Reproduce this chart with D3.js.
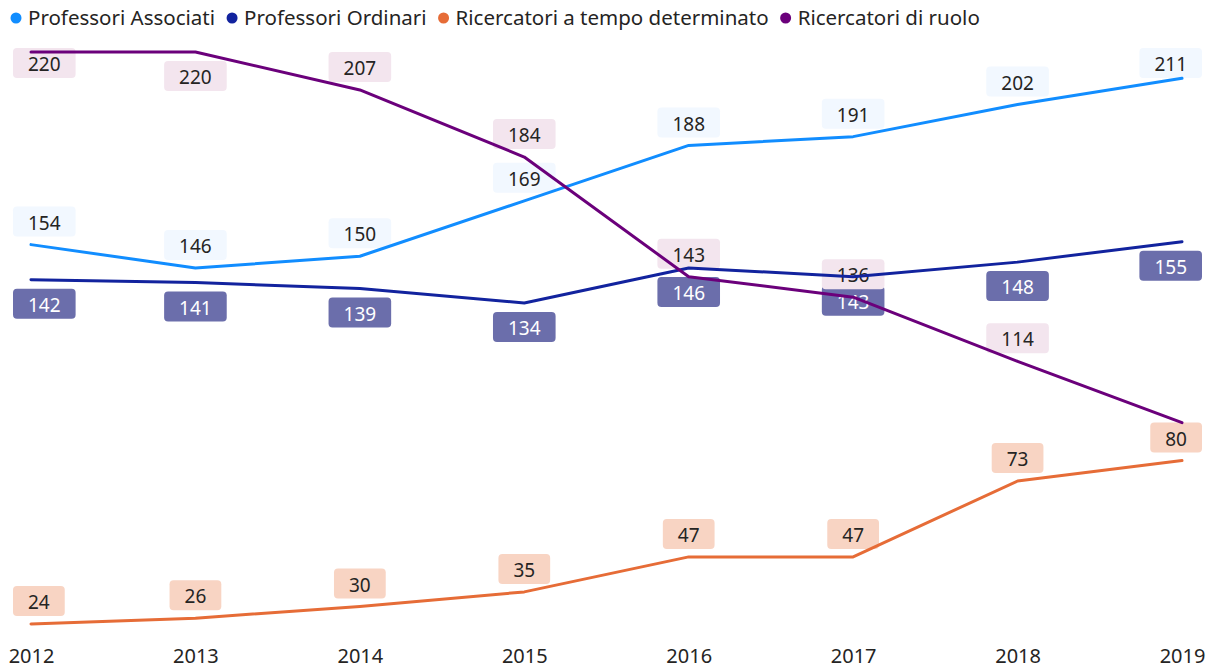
<!DOCTYPE html>
<html>
<head>
<meta charset="utf-8">
<script src="https://d3js.org/d3.v7.min.js"></script>
<style>
  body { margin: 0; background: #fff; }
  svg text { font-family: "Segoe UI", "Noto Sans", "Open Sans", sans-serif; fill: #252423; }
</style>
</head>
<body>
<svg id="chart" width="1214" height="671"></svg>
<script>
// data
var years = [2012, 2013, 2014, 2015, 2016, 2017, 2018, 2019];
var seriesNames = ["Professori Associati", "Professori Ordinari", "Ricercatori a tempo determinato", "Ricercatori di ruolo"];
var associati = [154, 146, 150, 169, 188, 191, 202, 211];
var ordinari = [142, 141, 139, 134, 146, 143, 148, 155];
var rtd = [24, 26, 30, 35, 47, 47, 73, 80];
var ruolo = [220, 220, 207, 184, 143, 136, 114, 93];
var labelSide = ["above", "below", "above", "above"];
var hiddenLabels = ["Ricercatori di ruolo|2019"];

var colors = ["#118DFF", "#12239E", "#E66C37", "#6B007B"];
var boxFill = ["#F2F8FF", "#6B6EAB", "#F8D4C3", "#F3E5EE"];
var boxText = ["#252423", "#ffffff", "#252423", "#252423"];

var series = [associati, ordinari, rtd, ruolo].map(function(v, i) {
  return { name: seriesNames[i], values: v, idx: i };
});

function draw() {
  var svg = d3.select("#chart");
  svg.selectAll("*").remove();

  var x = d3.scalePoint().domain(years).range([31, 1182]);
  var y = d3.scaleLinear().domain([24, 220]).range([624, 52]);

  // x axis labels
  var xAxis = d3.axisBottom(x).tickSize(0).tickPadding(0);
  var gx = svg.append("g").attr("transform", "translate(0,649)").call(xAxis);
  gx.select(".domain").remove();
  gx.selectAll("text").style("font-size", "20px").attr("dy", "0.72em")
    .style("font-family", '"Segoe UI", "Noto Sans", "Open Sans", sans-serif').attr("fill", "#252423");

  // legend
  var lx = 11;
  var legend = svg.append("g");
  series.forEach(function(s) {
    legend.append("circle").attr("cx", lx + 5).attr("cy", 18).attr("r", 5.5).attr("fill", colors[s.idx]);
    var t = legend.append("text").attr("x", lx + 17).attr("y", 18).attr("dy", "0.35em")
      .style("font-size", "20.5px").text(s.name);
    lx += 17 + t.node().getComputedTextLength() + 12;
  });

  // data labels (boxes under the lines)
  var labels = svg.append("g");
  var boxH = 30, gap = 8, topLimit = 48, leftLimit = 13, rightLimit = 1202;
  series.forEach(function(s) {
    var last = s.values.length - 1;
    s.values.forEach(function(v, i) {
      if (hiddenLabels.indexOf(s.name + "|" + years[i]) >= 0) return;
      var px = x(years[i]), py = y(v);
      var g = labels.append("g");
      var t = g.append("text").attr("text-anchor", "middle").attr("dy", "0.35em")
        .style("font-size", "19px").style("fill", boxText[s.idx]).text(v);
      var w = t.node().getComputedTextLength() + 30;
      var by;
      if (labelSide[s.idx] === "above") {
        by = py - gap - boxH;
        if (by < topLimit) by = (i === 0 || i === last) ? topLimit : py + gap + 1;
      } else {
        by = py + gap + 1;
      }
      var bx = px - w / 2;
      if (bx < leftLimit) bx = leftLimit;
      if (bx + w > rightLimit) bx = rightLimit - w;
      g.insert("rect", "text").attr("x", bx).attr("y", by).attr("width", w).attr("height", boxH)
        .attr("rx", 4).attr("fill", boxFill[s.idx]);
      t.attr("x", bx + w / 2).attr("y", by + boxH / 2 + 1.5);
    });
  });

  // lines
  var line = d3.line().x(function(d, i) { return x(years[i]); }).y(function(d) { return y(d); });
  svg.append("g").selectAll("path").data(series).enter().append("path")
    .attr("d", function(d) { return line(d.values); })
    .attr("fill", "none")
    .attr("stroke", function(d) { return colors[d.idx]; })
    .attr("stroke-width", 3)
    .attr("stroke-linejoin", "round")
    .attr("stroke-linecap", "round");
}

draw();
if (document.fonts && document.fonts.ready) document.fonts.ready.then(draw);
</script>
</body>
</html>
